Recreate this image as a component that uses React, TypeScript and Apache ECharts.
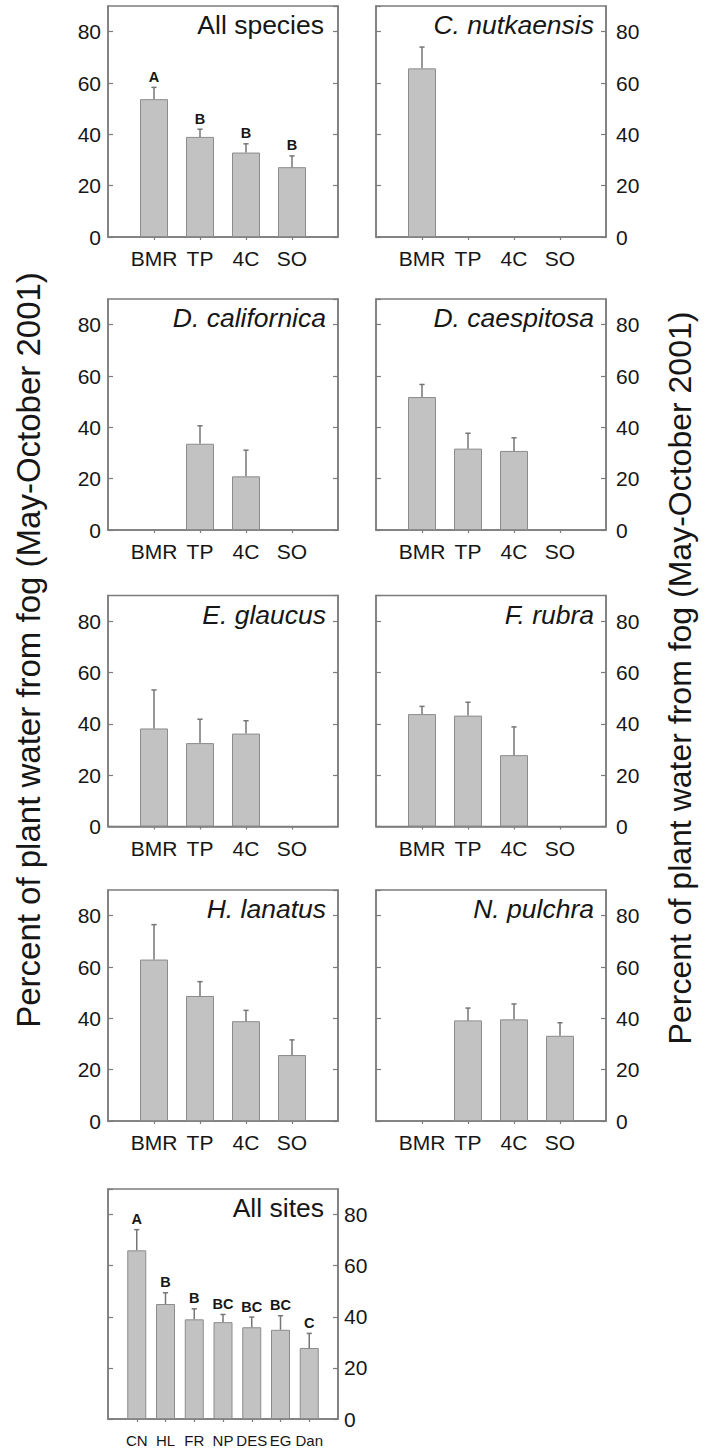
import React, { useEffect, useRef } from "react";
import * as echarts from "echarts";

// ---------- data ----------
const siteCats = ["BMR", "TP", "4C", "SO"];
const speciesCats = ["CN", "HL", "FR", "NP", "DES", "EG", "Dan"];

const allSpeciesMean = [53.7, 39.0, 32.9, 27.2];
const allSpeciesSE = [4.6, 3.0, 3.4, 4.4];
const allSpeciesLetters = ["A", "B", "B", "B"];

const cNutMean = [65.7, null, null, null];
const cNutSE = [8.3, null, null, null];

const dCalMean = [null, 33.6, 20.9, null];
const dCalSE = [null, 7.0, 10.2, null];

const dCaeMean = [51.8, 31.7, 30.8, null];
const dCaeSE = [4.9, 6.0, 5.1, null];

const eGlaMean = [38.2, 32.5, 36.2, null];
const eGlaSE = [15.0, 9.3, 5.0, null];

const fRubMean = [43.8, 43.2, 27.8, null];
const fRubSE = [3.0, 5.2, 11.0, null];

const hLanMean = [62.9, 48.7, 38.9, 25.7];
const hLanSE = [13.6, 5.6, 4.2, 5.9];

const nPulMean = [null, 39.2, 39.6, 33.2];
const nPulSE = [null, 4.8, 6.0, 5.1];

const allSitesMean = [66.0, 45.0, 39.0, 37.9, 35.9, 34.9, 27.8];
const allSitesSE = [8.1, 4.4, 4.1, 3.0, 4.0, 5.5, 5.7];
const allSitesLetters = ["A", "B", "B", "BC", "BC", "BC", "C"];

const yMax = 90;
const yInterval = 20;
const axisTitle = "Percent of plant water from fog (May-October 2001)";

type Panel = {
  title: string;
  italic: boolean;
  cats: string[];
  mean: (number | null)[];
  se: (number | null)[];
  letters?: string[];
};

const panels: Panel[] = [
  { title: "All species", italic: false, cats: siteCats, mean: allSpeciesMean, se: allSpeciesSE, letters: allSpeciesLetters },
  { title: "C. nutkaensis", italic: true, cats: siteCats, mean: cNutMean, se: cNutSE },
  { title: "D. californica", italic: true, cats: siteCats, mean: dCalMean, se: dCalSE },
  { title: "D. caespitosa", italic: true, cats: siteCats, mean: dCaeMean, se: dCaeSE },
  { title: "E. glaucus", italic: true, cats: siteCats, mean: eGlaMean, se: eGlaSE },
  { title: "F. rubra", italic: true, cats: siteCats, mean: fRubMean, se: fRubSE },
  { title: "H. lanatus", italic: true, cats: siteCats, mean: hLanMean, se: hLanSE },
  { title: "N. pulchra", italic: true, cats: siteCats, mean: nPulMean, se: nPulSE },
  { title: "All sites", italic: false, cats: speciesCats, mean: allSitesMean, se: allSitesSE, letters: allSitesLetters },
];

// ---------- layout ----------
const W = 709;
const H = 1448;
const FONT = "'Liberation Sans', Arial, Helvetica, sans-serif";
const TEXT = "#161616";
const AXIS = "#7c7c7c";
const GRID_W = 230;
const GRID_H = 231;
const TITLE_SIZE = 26.5;
const layout = [
  { left: 108, bottom: 237, side: "left" },
  { left: 376, bottom: 237, side: "right" },
  { left: 108, bottom: 530, side: "left" },
  { left: 376, bottom: 530, side: "right" },
  { left: 108, bottom: 826.5, side: "left" },
  { left: 376, bottom: 826.5, side: "right" },
  { left: 108, bottom: 1121, side: "left" },
  { left: 376, bottom: 1121, side: "right" },
  { left: 108, bottom: 1420, side: "right" },
];

function buildOption() {
  const grid: any[] = [];
  const xAxis: any[] = [];
  const yAxis: any[] = [];
  const series: any[] = [];
  const title: any[] = [];

  panels.forEach((p, i) => {
    const L = layout[i];
    const small = p.cats.length > 4;
    grid.push({
      left: L.left,
      top: L.bottom - GRID_H,
      width: GRID_W,
      height: GRID_H,
      show: true,
      borderColor: AXIS,
      borderWidth: 1.5,
      backgroundColor: "transparent",
      containLabel: false,
    });
    const padded = ["", ...p.cats, ""];
    xAxis.push({
      type: "category",
      gridIndex: i,
      data: padded,
      boundaryGap: false,
      axisLine: { show: true, lineStyle: { color: AXIS, width: 1.5 } },
      axisTick: {
        show: true,
        inside: false,
        length: 3,
        interval: (idx: number) => idx > 0 && idx <= p.cats.length,
        lineStyle: { color: AXIS, width: 1.2 },
      },
      axisLabel: {
        interval: 0,
        margin: small ? 14 : 11,
        fontSize: small ? 15 : 21,
        color: TEXT,
        fontFamily: FONT,
      },
      splitLine: { show: false },
    });
    const sides = L.side === "left" ? ["left", "right"] : ["right", "left"];
    sides.forEach((pos, k) => {
      yAxis.push({
        type: "value",
        gridIndex: i,
        position: pos,
        min: 0,
        max: yMax,
        interval: yInterval,
        axisLine: { show: true, lineStyle: { color: AXIS, width: 1.5 } },
        axisTick: { show: true, inside: true, length: 5, lineStyle: { color: AXIS, width: 1.2 } },
        axisLabel: {
          show: k === 0,
          showMaxLabel: false,
          margin: pos === "left" ? 7 : small ? 6 : 10,
          fontSize: 21,
          color: TEXT,
          fontFamily: FONT,
          formatter: (v: number) => (v === yMax ? "" : String(v)),
        },
        splitLine: { show: false },
      });
    });

    series.push({
      type: "bar",
      xAxisIndex: i,
      yAxisIndex: 2 * i,
      data: ["-", ...p.mean.map((v) => (v == null ? "-" : v)), "-"],
      barWidth: small ? 19 : 28,
      itemStyle: { color: "#c2c2c2", borderColor: "#8c8c8c", borderWidth: 1 },
      silent: true,
    });

    const errData: number[][] = [];
    p.mean.forEach((m, j) => {
      if (m != null && p.se[j] != null) errData.push([j + 1, m, p.se[j] as number]);
    });
    const letters = p.letters;
    series.push({
      type: "custom",
      xAxisIndex: i,
      yAxisIndex: 2 * i,
      data: errData,
      encode: { x: 0, y: 1 },
      silent: true,
      z: 5,
      renderItem: (params: any, api: any) => {
        const x = api.value(0);
        const m = api.value(1);
        const s = api.value(2);
        const p0 = api.coord([x, m]);
        const p1 = api.coord([x, m + s]);
        const stroke = "#767676";
        const children: any[] = [
          { type: "line", shape: { x1: p0[0], y1: p0[1], x2: p1[0], y2: p1[1] }, style: { stroke, lineWidth: 1.5 } },
          { type: "line", shape: { x1: p1[0] - 2.6, y1: p1[1], x2: p1[0] + 2.6, y2: p1[1] }, style: { stroke, lineWidth: 1.5 } },
        ];
        if (letters) {
          children.push({
            type: "text",
            x: p1[0],
            y: p1[1] - 3,
            style: {
              text: letters[x - 1],
              align: "center",
              verticalAlign: "bottom",
              fontSize: 14.5,
              fontWeight: "bold",
              fontFamily: FONT,
              fill: TEXT,
            },
          });
        }
        return { type: "group", children };
      },
    });

    const tick80 = L.bottom - (80 / yMax) * GRID_H;
    const baseline = tick80 + 2.5;
    const rightEdge = L.left + GRID_W - (p.italic ? 12 : 14);
    title.push({
      text: p.title,
      right: W - rightEdge,
      top: baseline - 0.85 * TITLE_SIZE,
      padding: 0,
      textStyle: {
        fontSize: TITLE_SIZE,
        fontStyle: p.italic ? "italic" : "normal",
        fontWeight: "normal",
        color: TEXT,
        fontFamily: FONT,
      },
    });
  });

  const graphic = [
    {
      type: "text",
      x: 28,
      y: 650,
      rotation: Math.PI / 2,
      style: { text: axisTitle, align: "center", verticalAlign: "middle", fontSize: 33, fontFamily: FONT, fill: TEXT },
    },
    {
      type: "text",
      x: 680,
      y: 678,
      rotation: Math.PI / 2,
      style: { text: axisTitle, align: "center", verticalAlign: "middle", fontSize: 32, fontFamily: FONT, fill: TEXT },
    },
  ];

  return {
    animation: false,
    backgroundColor: "#ffffff",
    title,
    grid,
    xAxis,
    yAxis,
    series,
    graphic,
  };
}

export default function App() {
  const ref = useRef<HTMLDivElement>(null);
  useEffect(() => {
    document.body.style.margin = "0";
    if (!ref.current) return;
    const chart = echarts.init(ref.current, undefined, { renderer: "svg" });
    chart.setOption(buildOption() as any);
    return () => chart.dispose();
  }, []);
  return <div ref={ref} style={{ width: W, height: H }} />;
}
